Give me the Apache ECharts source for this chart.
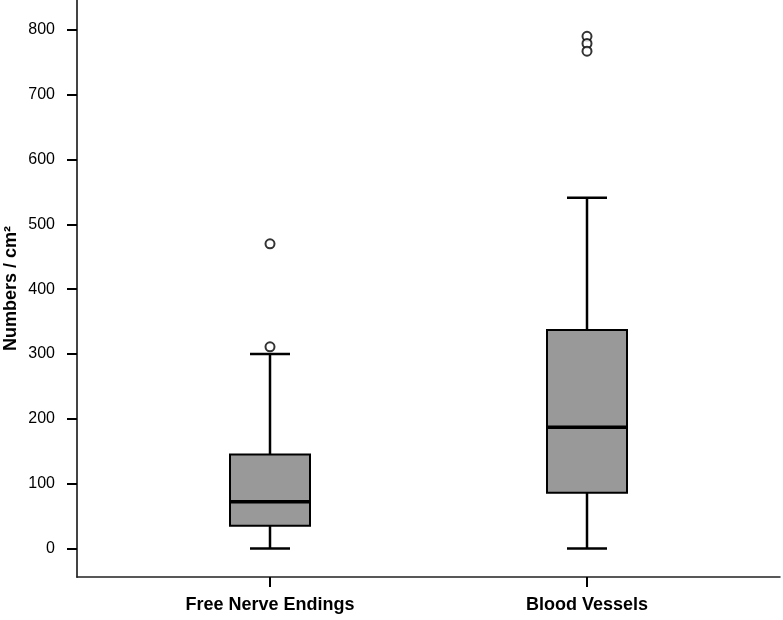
<!DOCTYPE html>
<html>
<head>
<meta charset="utf-8">
<script src="https://cdn.jsdelivr.net/npm/echarts@6/dist/echarts.min.js"></script>
<style>
html,body{margin:0;padding:0;background:#fff;}
#chart{width:783px;height:620px;}
</style>
</head>
<body>
<div id="chart"></div>
<script>
// ---- data ----
var categories = ['Free Nerve Endings', 'Blood Vessels'];
var lowerWhisker = [0, 0];
var q1 = [35, 86];
var median = [72, 187];
var q3 = [145, 337];
var upperWhisker = [300, 541];
var fneOutliers = [470, 311];
var bvOutliers = [790, 779, 767];
var yTicks = [0, 100, 200, 300, 400, 500, 600, 700, 800];
var yMin = -44, yMax = 846;

// ---- build ----
var boxData = categories.map(function (c, i) {
  return [i, lowerWhisker[i], q1[i], median[i], q3[i], upperWhisker[i]];
});
var outlierData = [];
fneOutliers.forEach(function (v) { outlierData.push([0, v]); });
bvOutliers.forEach(function (v) { outlierData.push([1, v]); });

var BOX_W = 80, CAP_W = 40;
function renderBox(params, api) {
  var x = api.value(0);
  var pLow = api.coord([x, api.value(1)]);
  var pQ1 = api.coord([x, api.value(2)]);
  var pMed = api.coord([x, api.value(3)]);
  var pQ3 = api.coord([x, api.value(4)]);
  var pHigh = api.coord([x, api.value(5)]);
  var cx = pMed[0];
  var line = { stroke: '#000', lineWidth: 2.5 };
  return {
    type: 'group',
    children: [
      { type: 'line', shape: { x1: cx, y1: pQ3[1], x2: cx, y2: pHigh[1] }, style: line },
      { type: 'line', shape: { x1: cx, y1: pQ1[1], x2: cx, y2: pLow[1] }, style: line },
      { type: 'line', shape: { x1: cx - CAP_W / 2, y1: pHigh[1], x2: cx + CAP_W / 2, y2: pHigh[1] }, style: line },
      { type: 'line', shape: { x1: cx - CAP_W / 2, y1: pLow[1], x2: cx + CAP_W / 2, y2: pLow[1] }, style: line },
      { type: 'rect', shape: { x: cx - BOX_W / 2, y: pQ3[1], width: BOX_W, height: pQ1[1] - pQ3[1] },
        style: { fill: '#999999', stroke: '#000', lineWidth: 2 } },
      { type: 'line', shape: { x1: cx - BOX_W / 2, y1: pMed[1], x2: cx + BOX_W / 2, y2: pMed[1] },
        style: { stroke: '#000', lineWidth: 3.5 } }
    ]
  };
}

var FONT = 'Liberation Sans, Arial, sans-serif';
var chart = echarts.init(document.getElementById('chart'), null, { renderer: 'canvas' });
chart.setOption({
  animation: false,
  backgroundColor: '#fff',
  grid: [
    { left: 77, right: 3, top: 0, bottom: 43, outerBoundsMode: 'none', containLabel: false },
    { left: 111.5, right: 37.5, top: 0, bottom: 43, outerBoundsMode: 'none', containLabel: false }
  ],
  xAxis: [
    { gridIndex: 0, type: 'value', min: 0, max: 1,
      axisLine: { show: true, onZero: false, lineStyle: { color: '#222', width: 1.5 } },
      axisTick: { show: false }, axisLabel: { show: false }, splitLine: { show: false } },
    { gridIndex: 1, type: 'category', data: categories,
      axisLine: { show: false, onZero: false },
      axisTick: { show: true, alignWithLabel: true, length: 10, lineStyle: { color: '#000', width: 2 } },
      axisLabel: { show: true, interval: 0, margin: 19, color: '#000', fontSize: 18, fontWeight: 'bold',
        fontFamily: FONT },
      splitLine: { show: false } }
  ],
  yAxis: [
    { gridIndex: 0, type: 'value', min: yMin, max: yMax,
      name: 'Numbers / cm\u00B2', nameLocation: 'middle', nameGap: 57, nameMoveOverlap: false,
      nameTextStyle: { color: '#000', fontSize: 18, fontWeight: 'bold', fontFamily: FONT },
      axisLine: { show: true, onZero: false, lineStyle: { color: '#444', width: 2 } },
      axisTick: { show: true, length: 10, customValues: yTicks, lineStyle: { color: '#000', width: 2 } },
      axisLabel: { show: true, customValues: yTicks, margin: 22, color: '#000', fontSize: 16,
        fontFamily: FONT },
      splitLine: { show: false } },
    { gridIndex: 1, type: 'value', min: yMin, max: yMax, show: false }
  ],
  series: [
    { type: 'custom', xAxisIndex: 1, yAxisIndex: 1, renderItem: renderBox, data: boxData,
      encode: { x: 0, y: [1, 2, 3, 4, 5] }, silent: true },
    { type: 'scatter', xAxisIndex: 1, yAxisIndex: 1, data: outlierData, symbol: 'circle', symbolSize: 9,
      itemStyle: { color: '#fff', borderColor: '#000', borderWidth: 2 }, silent: true }
  ]
});
</script>
</body>
</html>
